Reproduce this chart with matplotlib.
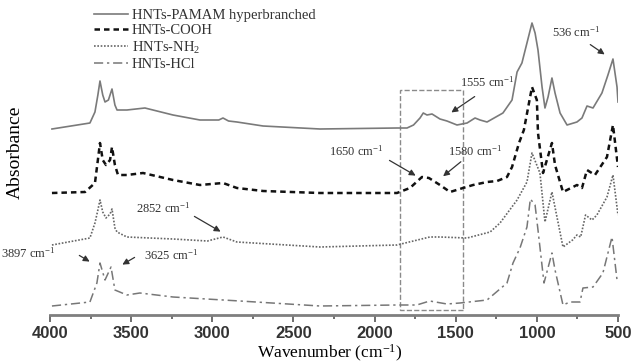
import matplotlib
matplotlib.use('Agg')
import matplotlib.pyplot as plt
from matplotlib.patches import Rectangle
from matplotlib.ticker import MultipleLocator

plt.rcParams['font.family'] = 'Liberation Serif'
plt.rcParams['mathtext.fontset'] = 'custom'
plt.rcParams['mathtext.rm'] = 'Liberation Serif'
plt.rcParams['mathtext.it'] = 'Liberation Serif:italic'

# espectros (desplazados verticalmente, unidades arbitrarias)
wn_pamam = [3988, 3754, 3723, 3705, 3692, 3675, 3661, 3640, 3618, 3600, 3587, 3526, 3415, 3242, 3076,
            2960, 2934, 2900, 2848, 2687, 2336, 1862, 1800, 1760, 1720, 1700, 1677, 1646, 1597, 1554,
            1492, 1430, 1381, 1350, 1307, 1209, 1153, 1122, 1092, 1061, 1030, 1011, 993, 968, 950,
            931, 907, 888, 857, 814, 753, 722, 691, 654, 599, 562, 531, 506, 500]
abs_pamam = [1.86, 1.92, 2.03, 2.20, 2.34, 2.20, 2.13, 2.15, 2.26, 2.10, 2.05, 2.05, 2.07, 2.00, 1.95,
             1.95, 1.97, 1.94, 1.93, 1.89, 1.86, 1.87, 1.87, 1.90, 1.97, 2.02, 2.00, 2.01, 1.96, 1.94,
             1.90, 1.92, 1.97, 1.95, 1.93, 2.02, 2.15, 2.43, 2.52, 2.72, 2.92, 2.82, 2.65, 2.28, 2.07,
             2.18, 2.37, 2.22, 2.02, 1.90, 1.93, 1.97, 2.09, 2.07, 2.22, 2.40, 2.56, 2.28, 2.13]

wn_cooh = [3988, 3784, 3723, 3705, 3692, 3675, 3655, 3630, 3618, 3600, 3581, 3526, 3427, 3242, 3076,
           2934, 2848, 2687, 2336, 1862, 1782, 1708, 1665, 1597, 1535, 1455, 1393, 1307, 1245, 1184,
           1153, 1110, 1080, 1030, 1000, 993, 962, 907, 888, 839, 753, 722, 691, 642, 568, 531, 500]
abs_cooh = [1.22, 1.23, 1.32, 1.55, 1.72, 1.55, 1.50, 1.55, 1.68, 1.50, 1.40, 1.40, 1.42, 1.35, 1.30,
            1.32, 1.27, 1.24, 1.22, 1.22, 1.27, 1.38, 1.37, 1.30, 1.23, 1.27, 1.30, 1.33, 1.34, 1.38,
            1.48, 1.72, 1.85, 2.28, 2.15, 1.82, 1.42, 1.72, 1.50, 1.23, 1.30, 1.27, 1.45, 1.40, 1.58,
            1.90, 1.48]

wn_nh2 = [3988, 3754, 3723, 3705, 3692, 3675, 3655, 3630, 3618, 3600, 3587, 3526, 3242, 3030, 2934,
          2848, 2336, 1862, 1660, 1597, 1430, 1288, 1227, 1122, 1061, 1030, 981, 950, 907, 839,
          780, 753, 730, 700, 660, 630, 568, 531, 500]
abs_nh2 = [0.70, 0.77, 0.92, 1.05, 1.15, 1.03, 0.97, 1.01, 1.06, 0.87, 0.83, 0.78, 0.76, 0.74, 0.78,
           0.73, 0.68, 0.70, 0.78, 0.78, 0.77, 0.83, 0.92, 1.15, 1.33, 1.62, 1.42, 0.93, 1.23, 0.68,
           0.75, 0.80, 0.78, 1.00, 0.95, 1.00, 1.18, 1.40, 1.00]

wn_hcl = [3988, 3754, 3711, 3692, 3661, 3624, 3600, 3526, 3446, 3242, 2830, 2336, 1862, 1740, 1660,
          1554, 1474, 1307, 1184, 1147, 1104, 1061, 1040, 1011, 993, 956, 907, 888, 839, 796,
          734, 716, 654, 593, 537, 506, 500]
abs_hcl = [0.09, 0.13, 0.32, 0.52, 0.35, 0.48, 0.25, 0.20, 0.22, 0.18, 0.14, 0.09, 0.10, 0.10, 0.14,
           0.11, 0.12, 0.15, 0.32, 0.52, 0.67, 0.88, 1.16, 1.10, 0.85, 0.32, 0.62, 0.45, 0.10, 0.13,
           0.13, 0.27, 0.28, 0.42, 0.78, 0.35, 0.33]

fig = plt.figure(figsize=(6.33, 3.64), dpi=100)
ax = fig.add_axes([50/633, 49/364, 568/633, 315/364])

ax.plot(wn_pamam, abs_pamam, color='#7a7a7a', lw=1.2, ls='-', label='HNTs-PAMAM hyperbranched')
ax.plot(wn_cooh, abs_cooh, color='#111111', lw=1.8, ls=(0, (2.2, 1.6)), label='HNTs-COOH')
ax.plot(wn_nh2, abs_nh2, color='#666666', lw=1.2, ls=(0, (1, 1)), label='HNTs-NH$_2$')
ax.plot(wn_hcl, abs_hcl, color='#777777', lw=1.1, ls=(0, (6, 2.5, 1.5, 2.5)), label='HNTs-HCl')

# recuadro zona 1650-1500
ax.add_patch(Rectangle((1455, 0.05), 388, 2.20, fill=False, ls='--', lw=1, ec='#8a8a8a'))

# etiquetas de picos (texto, cola y punta de la flecha)
picos = [('536 cm$^{-1}$', (759, 2.83), (685, 2.72), (568, 2.59)),
         ('1555 cm$^{-1}$', (1307, 2.33), (1369, 2.20), (1541, 2.01)),
         ('1650 cm$^{-1}$', (2114, 1.64), (1923, 1.56), (1732, 1.38)),
         ('1580 cm$^{-1}$', (1381, 1.64), (1455, 1.55), (1591, 1.37)),
         ('2852 cm$^{-1}$', (3304, 1.07), (3125, 1.00), (2934, 0.82)),
         ('3897 cm$^{-1}$', (4135, 0.62), (3834, 0.61), (3741, 0.52)),
         ('3625 cm$^{-1}$', (3254, 0.60), (3464, 0.59), (3569, 0.49))]
for txt, pos, cola, punta in picos:
    ax.text(pos[0], pos[1], txt, ha='center', va='center', fontsize=9, color='#333333')
    ax.annotate('', xy=punta, xytext=cola,
                arrowprops=dict(arrowstyle='-|>', color='#333333', lw=0.9, mutation_scale=9))

ax.set_xlim(4000, 500)
ax.set_ylim(0, 3.15)
ax.xaxis.set_major_locator(MultipleLocator(500))
ax.xaxis.set_minor_locator(MultipleLocator(250))
ax.set_yticks([])
for s in ['top', 'right', 'left']:
    ax.spines[s].set_visible(False)
ax.spines['bottom'].set_color('#7f7f7f')
ax.spines['bottom'].set_linewidth(2)
ax.tick_params(axis='x', which='major', direction='out', length=5, width=1.2, color='#555555',
               labelsize=12, pad=3)
ax.tick_params(axis='x', which='minor', direction='out', length=3, width=1.2, color='#555555')
for lab in ax.get_xticklabels():
    lab.set_fontfamily('Liberation Sans')
    lab.set_fontweight('bold')
    lab.set_color('#333333')

fig.text(330/633, 1 - 353/364, 'Wavenumber (cm$^{-1}$)', ha='center', va='center', fontsize=12.5)
fig.text(15/633, 1 - 152/364, 'Absorbance', rotation=90, ha='center', va='center', fontsize=14)

ax.legend(loc='upper left', bbox_to_anchor=(94/633, 1 - 9/364), bbox_transform=fig.transFigure,
          frameon=False, fontsize=10.5, handlelength=2.3, handletextpad=0.3, labelspacing=0.14,
          borderpad=0, borderaxespad=0, labelcolor='#333333')

fig.savefig('out.png', dpi=100)
